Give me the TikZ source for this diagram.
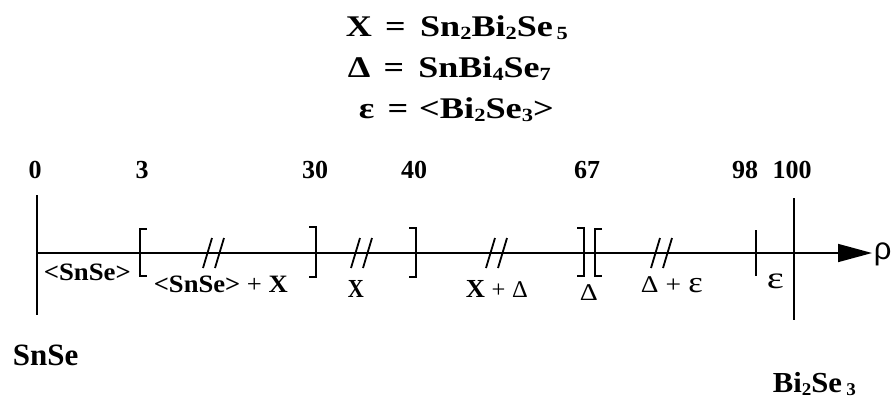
\documentclass[tikz,border=0pt]{standalone}
\usepackage{fontspec}
\setmainfont{Liberation Serif}
\newfontfamily\sansf{Liberation Sans}
\usetikzlibrary{arrows.meta}
\newcommand\sbs[1]{\raisebox{-0.12em}{\scalebox{0.62}{#1}}}
\newcommand\fitw[2]{\resizebox{#1}{\height}{#2}}
\newcommand\rgD[1]{{\mdseries\fontsize{#1}{#1}\selectfont Δ}}
\newcommand\rgE[1]{{\mdseries\fontsize{#1}{#1}\selectfont ε}}
\newcommand\rgP[1]{{\mdseries\fontsize{#1}{#1}\selectfont +}}
\begin{document}
\begin{tikzpicture}[x=1pt,y=-1pt,line width=1.6pt,
  hdr/.style={anchor=base west,inner sep=0pt,font=\bfseries\fontsize{30}{30}\selectfont},
  ticklbl/.style={anchor=base,inner sep=0pt,font=\bfseries\fontsize{26}{26}\selectfont},
  lbl/.style={anchor=base west,inner sep=0pt,font=\bfseries\fontsize{25}{25}\selectfont},
  big/.style={anchor=base west,inner sep=0pt,font=\bfseries\fontsize{30}{30}\selectfont},
  brkline/.style={line width=1.8pt},
  bracket/.style={line width=1.7pt}]
\useasboundingbox (0,0) rectangle (893,402);
% header
\node[hdr] (h1) at (345,36) {\fitw{222pt}{X\hspace{11pt}=\hspace{12pt}Sn\sbs{2}Bi\sbs{2}Se\hspace{3pt}\sbs{5}}};
\node[hdr] (h2) at (347,77) {\fitw{203pt}{Δ\hspace{11pt}=\hspace{12pt}SnBi\sbs{4}Se\sbs{7}}};
\node[hdr] (h3) at (358,118) {\fitw{195pt}{ε\hspace{11pt}=\hspace{9pt}<Bi\sbs{2}Se\sbs{3}>}};
% tick labels
\node[ticklbl] (t0) at (35,178) {0};
\node[ticklbl] (t3) at (142,178) {3};
\node[ticklbl] (t30) at (315,178) {30};
\node[ticklbl] (t40) at (414,178) {40};
\node[ticklbl] (t67) at (587,178) {67};
\node[ticklbl] (t98) at (745,178) {98};
\node[ticklbl] (t100) at (792,178) {100};
% axis
\coordinate (A0) at (37,253);
\coordinate (A1) at (872,253);
\draw[-{Triangle[length=34pt,width=18pt]}] (A0) -- (A1);
\node[anchor=base west,inner sep=0pt,font=\sansf\fontsize{31}{31}\selectfont] (rho) at (873,259) {ρ};
% end lines
\coordinate (L0) at (37,195); \coordinate (L1) at (37,315);
\coordinate (R0) at (794,198); \coordinate (R1) at (794,320);
\draw (L0) -- (L1);
\draw (R0) -- (R1);
% brackets
\draw[bracket] (147,229) -- (140,229) -- (140,276) -- (147,276);
\draw[bracket] (309,227) -- (316,227) -- (316,277) -- (309,277);
\draw[bracket] (409,228) -- (416,228) -- (416,277) -- (409,277);
\draw[bracket] (577,228) -- (584,228) -- (584,276) -- (577,276);
\draw[bracket] (602,229) -- (595,229) -- (595,276) -- (602,276);
\draw[bracket] (756,230) -- (756,276);
% break marks
\foreach \c in {214,362,497,662}{
  \draw[brkline] ({\c-11},268) -- ({\c-2},238);
  \draw[brkline] ({\c+1},268) -- ({\c+10},238);
}
% region labels
\node[lbl] (ls) at (43,280) {\fitw{87pt}{<SnSe>}};
\node[lbl] (lsx) at (153,292) {\fitw{134pt}{<SnSe> \rgP{25} X}};
\node[lbl,font=\bfseries\fontsize{26}{26}\selectfont] (lx) at (347,297) {\fitw{16pt}{X}};
\node[lbl,font=\bfseries\fontsize{26}{26}\selectfont] (lxd) at (465,297) {\fitw{62pt}{X \rgP{24} \rgD{24}}};
\node[lbl] (ld) at (579,300) {\fitw{18pt}{\rgD{24}}};
\node[lbl] (lde) at (640,292) {\fitw{62pt}{\rgD{24} \rgP{24} \rgE{30}}};
\node[lbl] (le) at (766,288) {\fitw{17pt}{\rgE{31}}};
% compound names
\node[big,font=\bfseries\fontsize{31}{31}\selectfont] (snse) at (12,365) {SnSe};
\node[big,font=\bfseries\fontsize{29}{29}\selectfont] (bise) at (772,392) {\fitw{83pt}{Bi\sbs{2}Se\hspace{4pt}\sbs{3}}};
\end{tikzpicture}
\end{document}
